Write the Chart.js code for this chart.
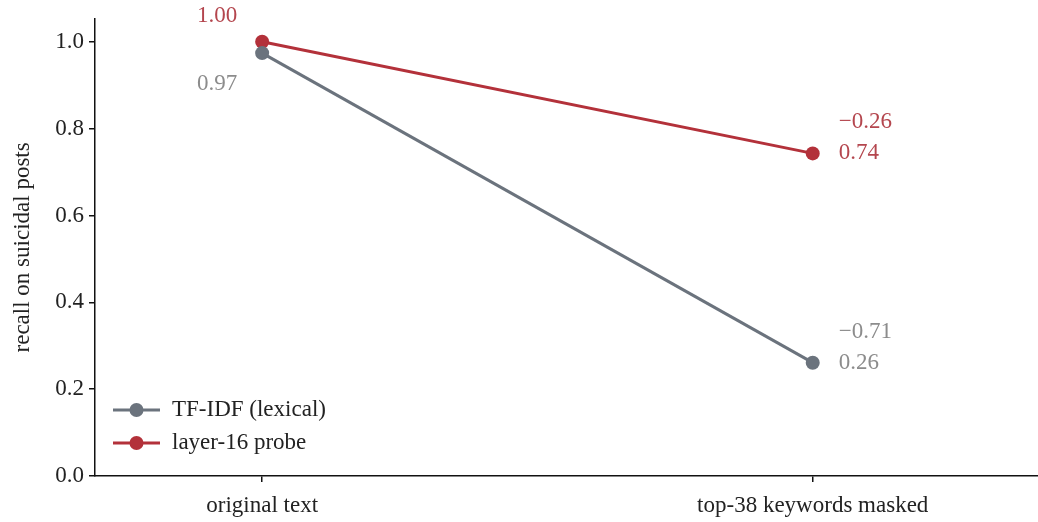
<!DOCTYPE html>
<html>
<head>
<meta charset="utf-8">
<script src="https://cdn.jsdelivr.net/npm/chart.js@4.4.1/dist/chart.umd.min.js"></script>
<style>
    html, body { margin: 0; padding: 0; background: #fff; overflow: hidden; }
    #wrap { width: 1038px; height: 522px; overflow: hidden; }
</style>
</head>
<body>
<div id="wrap"><canvas id="chart" width="1046" height="522"></canvas></div>
<script>
// 資料
const categories = ['original text', 'top-38 keywords masked'];
const seriesNames = ['TF-IDF (lexical)', 'layer-16 probe'];
const tfidfRecall = [0.974, 0.261];
const probeRecall = [1.0, 0.743];
const yTicks = [0, 0.2, 0.4, 0.6, 0.8, 1.0];

const GRAY = '#6b737d';
const RED = '#b3313a';
const GRAY_TEXT = '#8c8c8c';
const RED_TEXT = '#b4464e';
const FONT = '"Liberation Serif", "DejaVu Serif", serif';
const FS = 23;

const toPoints = arr => arr.map((v, i) => ({ x: i, y: v }));
const fmt = v => (v < 0 ? '\u2212' : '') + Math.abs(v).toFixed(2);

// 數值標註
const labelPlugin = {
    id: 'valueLabels',
    afterDatasetsDraw(chart) {
        const ctx = chart.ctx;
        const xs = chart.scales.x, ys = chart.scales.y;
        ctx.save();
        ctx.font = FS + 'px ' + FONT;
        ctx.textBaseline = 'middle';

        const series = [
            { data: tfidfRecall, color: GRAY_TEXT, startDy: 31 },
            { data: probeRecall, color: RED_TEXT, startDy: -26 }
        ];
        series.forEach(s => {
            ctx.fillStyle = s.color;
            // 起點
            ctx.textAlign = 'center';
            ctx.fillText(fmt(s.data[0]), xs.getPixelForValue(0) - 45, ys.getPixelForValue(s.data[0]) + s.startDy);
            // 終點與差值
            const ex = xs.getPixelForValue(1) + 26;
            const ey = ys.getPixelForValue(s.data[1]);
            ctx.textAlign = 'left';
            ctx.fillText(fmt(s.data[1]), ex, ey);
            ctx.fillText(fmt(s.data[1] - s.data[0]), ex, ey - 31);
        });
        ctx.restore();
    }
};

// 圖例 (線 + 圓點)
const legendPlugin = {
    id: 'lineLegend',
    afterDraw(chart) {
        const ctx = chart.ctx;
        const x0 = 113, y0 = 410, gap = 33;
        ctx.save();
        chart.data.datasets.forEach((ds, i) => {
            const y = y0 + i * gap;
            ctx.strokeStyle = ds.borderColor;
            ctx.lineWidth = 3;
            ctx.beginPath();
            ctx.moveTo(x0, y);
            ctx.lineTo(x0 + 47, y);
            ctx.stroke();
            ctx.fillStyle = ds.borderColor;
            ctx.beginPath();
            ctx.arc(x0 + 23.5, y, 7, 0, Math.PI * 2);
            ctx.fill();
            ctx.fillStyle = '#222';
            ctx.font = FS + 'px ' + FONT;
            ctx.textAlign = 'left';
            ctx.textBaseline = 'middle';
            ctx.fillText(ds.label, x0 + 59, y);
        });
        ctx.restore();
    }
};

new Chart(document.getElementById('chart'), {
    type: 'line',
    data: {
        datasets: [
            {
                label: seriesNames[0],
                data: toPoints(tfidfRecall),
                borderColor: GRAY,
                backgroundColor: GRAY,
                borderWidth: 3,
                pointRadius: 7,
                pointBorderWidth: 0,
                pointBackgroundColor: GRAY
            },
            {
                label: seriesNames[1],
                data: toPoints(probeRecall),
                borderColor: RED,
                backgroundColor: RED,
                borderWidth: 3,
                pointRadius: 7,
                pointBorderWidth: 0,
                pointBackgroundColor: RED
            }
        ]
    },
    options: {
        responsive: false,
        animation: false,
        layout: { padding: { top: 18, right: 0, left: 0, bottom: 0 } },
        plugins: {
            legend: { display: false },
            tooltip: { enabled: false }
        },
        scales: {
            x: {
                type: 'linear',
                min: -0.3036,
                max: 1.411,
                afterBuildTicks: axis => { axis.ticks = [{ value: 0 }, { value: 1 }]; },
                afterFit: axis => { axis.height = 46; },
                ticks: {
                    callback: v => categories[v],
                    color: '#222',
                    font: { family: FONT, size: FS },
                    padding: 10,
                    maxRotation: 0
                },
                grid: { drawOnChartArea: false, drawTicks: true, tickLength: 6, color: '#111', lineWidth: 1.5 },
                border: { display: true, color: '#111', width: 1.5 }
            },
            y: {
                min: 0,
                max: 1.053,
                afterBuildTicks: axis => { axis.ticks = yTicks.map(v => ({ value: v })); },
                afterFit: axis => { axis.width = 95; },
                ticks: {
                    callback: v => v.toFixed(1),
                    color: '#222',
                    font: { family: FONT, size: FS },
                    padding: 5
                },
                title: {
                    display: true,
                    text: 'recall on suicidal posts',
                    color: '#222',
                    font: { family: FONT, size: FS },
                    padding: { top: 9, bottom: 0 }
                },
                grid: { drawOnChartArea: false, drawTicks: true, tickLength: 6, color: '#111', lineWidth: 1.5 },
                border: { display: true, color: '#111', width: 1.5 }
            }
        }
    },
    plugins: [labelPlugin, legendPlugin]
});
</script>
</body>
</html>
